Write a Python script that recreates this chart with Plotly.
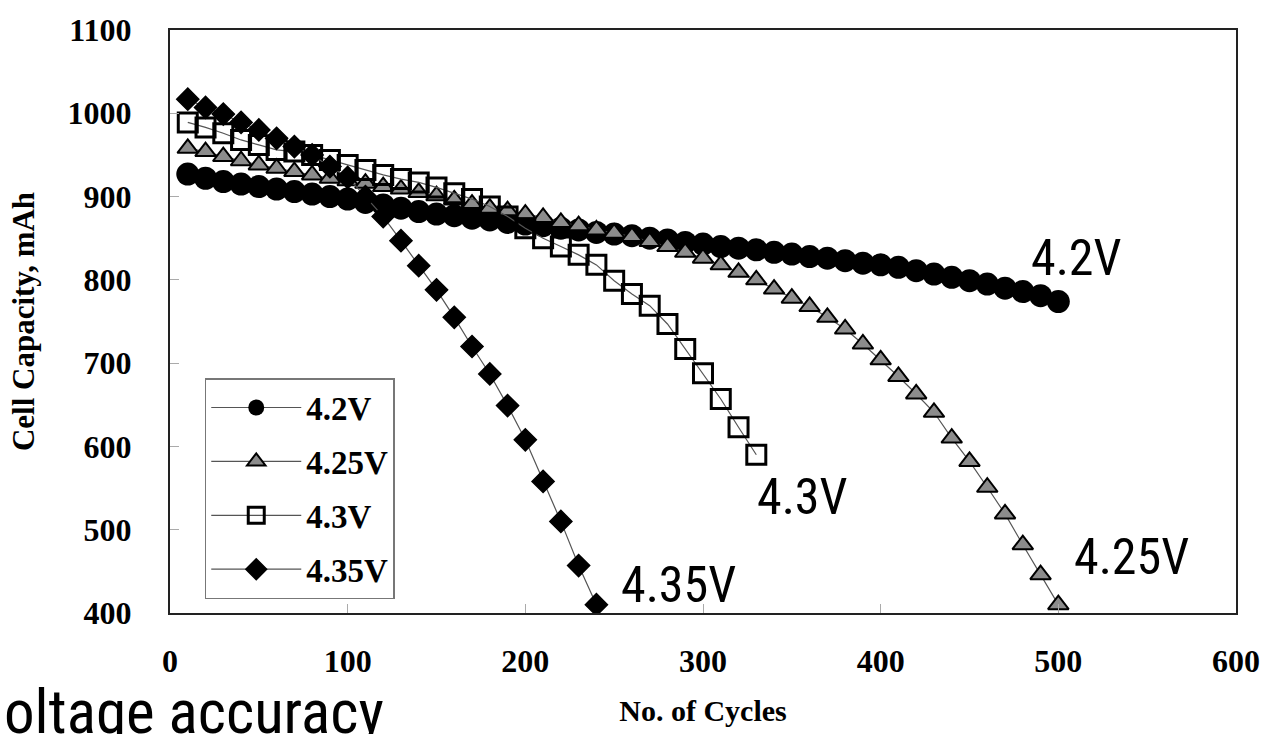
import plotly.graph_objects as go

# Charge cut-off voltage series: cycle number vs. cell capacity (mAh)
cycles_42 = [10, 20, 30, 40, 50, 60, 70, 80, 90, 100, 110, 120, 130, 140, 150, 160, 170, 180, 190, 200,
             210, 220, 230, 240, 250, 260, 270, 280, 290, 300, 310, 320, 330, 340, 350, 360, 370, 380, 390, 400,
             410, 420, 430, 440, 450, 460, 470, 480, 490, 500]
cap_42 = [927, 922, 918, 915, 912, 909, 906, 903, 900, 897, 893, 890, 886, 882, 879, 877, 874, 872, 869, 867,
          865, 862, 860, 857, 855, 853, 850, 848, 845, 843, 840, 838, 836, 833, 831, 828, 826, 823, 820, 818,
          815, 811, 807, 803, 799, 795, 790, 786, 781, 774]

cycles_425 = cycles_42
cap_425 = [958, 954, 948, 943, 938, 934, 930, 926, 922, 919, 916, 912, 909, 905, 901, 896, 891, 886, 883, 879,
           875, 869, 865, 860, 856, 852, 846, 840, 833, 826, 818, 809, 800, 789, 778, 768, 755, 741, 723, 704,
           684, 663, 641, 610, 582, 551, 519, 482, 446, 410]

cycles_43 = [10, 20, 30, 40, 50, 60, 70, 80, 90, 100, 110, 120, 130, 140, 150, 160, 170, 180, 190, 200,
             210, 220, 230, 240, 250, 260, 270, 280, 290, 300, 310, 320, 330]
cap_43 = [989, 983, 976, 968, 962, 956, 954, 950, 944, 938, 932, 926, 921, 917, 911, 904, 897, 888, 876, 862,
          850, 840, 830, 818, 799, 783, 769, 747, 717, 688, 657, 623, 590]

cycles_435 = [10, 20, 30, 40, 50, 60, 70, 80, 90, 100, 110, 120, 130, 140, 150, 160, 170, 180, 190, 200,
              210, 220, 230, 240]
cap_435 = [1017, 1007, 999, 989, 980, 970, 960, 950, 936, 923, 900, 876, 847, 817, 788, 755, 720, 687, 649, 608,
           558, 510, 457, 410]

series_names = ["4.2V", "4.25V", "4.3V", "4.35V"]
x_ticks = [0, 100, 200, 300, 400, 500, 600]
y_ticks = [400, 500, 600, 700, 800, 900, 1000, 1100]

# end-of-curve labels: (text, cycle, capacity)
curve_labels = [("4.2V", 510, 826), ("4.3V", 356, 539), ("4.25V", 541, 467), ("4.35V", 286, 434)]

SERIF = "Liberation Serif, Times New Roman, serif"
NARROW = "Noto Sans Condensed, Roboto Condensed, Open Sans Condensed, Roboto, sans-serif"
LINE = dict(color="#555555", width=1.2)

fig = go.Figure()
fig.add_trace(go.Scatter(
    x=cycles_42, y=cap_42, name=series_names[0], mode="lines+markers", line=LINE, legendgroup="a",
    marker=dict(symbol="circle", size=23, color="black")))
fig.add_trace(go.Scatter(
    x=cycles_425, y=cap_425, name=series_names[1], mode="lines+markers", line=LINE, legendgroup="b",
    marker=dict(symbol="triangle-up", size=18, color="#8c8c8c", line=dict(color="black", width=2))))
fig.add_trace(go.Scatter(
    x=cycles_43, y=cap_43, name=series_names[2], mode="lines+markers", line=LINE, legendgroup="c",
    marker=dict(symbol="square-open", size=19, color="black", line=dict(color="black", width=3))))
fig.add_trace(go.Scatter(
    x=cycles_435, y=cap_435, name=series_names[3], mode="lines+markers", line=LINE, legendgroup="d",
    marker=dict(symbol="diamond", size=17, color="black", line=dict(color="black", width=1.5))))

for text, cx, cy in curve_labels:
    fig.add_annotation(x=cx, y=cy, xref="x", yref="y", text=text, showarrow=False,
                       font=dict(family=NARROW, size=50, color="black"))

fig.add_annotation(x=-0.158, y=-0.17, xref="paper", yref="paper", xanchor="left", yanchor="middle",
                   text="oltage accuracy", showarrow=False,
                   font=dict(family=NARROW, size=61, color="black"))

axis_common = dict(
    showgrid=False, zeroline=False, showline=True, linecolor="#222222", linewidth=2, mirror=True,
    ticks="inside", ticklen=9, tickcolor="#aaaaaa", tickwidth=1,
    tickfont=dict(family=SERIF, size=32, color="black", weight="bold"),
)

fig.update_xaxes(range=[0, 600], tickvals=x_ticks, ticklabelstandoff=19, **axis_common,
                 title=dict(text="No. of Cycles", font=dict(family=SERIF, size=30, color="black", weight="bold"),
                            standoff=22))
fig.update_yaxes(range=[400, 1100], tickvals=y_ticks, ticklabelstandoff=30, **axis_common,
                 title=dict(text="Cell Capacity, mAh", font=dict(family=SERIF, size=31, color="black", weight="bold"),
                            standoff=24))

fig.update_layout(
    width=1272, height=734,
    margin=dict(l=170, r=27, t=23, b=118),
    paper_bgcolor="white", plot_bgcolor="white",
    showlegend=True,
    legend=dict(x=0.0326, y=0.403, xanchor="left", yanchor="top",
                bgcolor="white", bordercolor="#777777", borderwidth=1.5,
                font=dict(family=SERIF, size=33, color="black", weight="bold"),
                itemwidth=90, tracegroupgap=8),
)

fig.write_html("out.html")
